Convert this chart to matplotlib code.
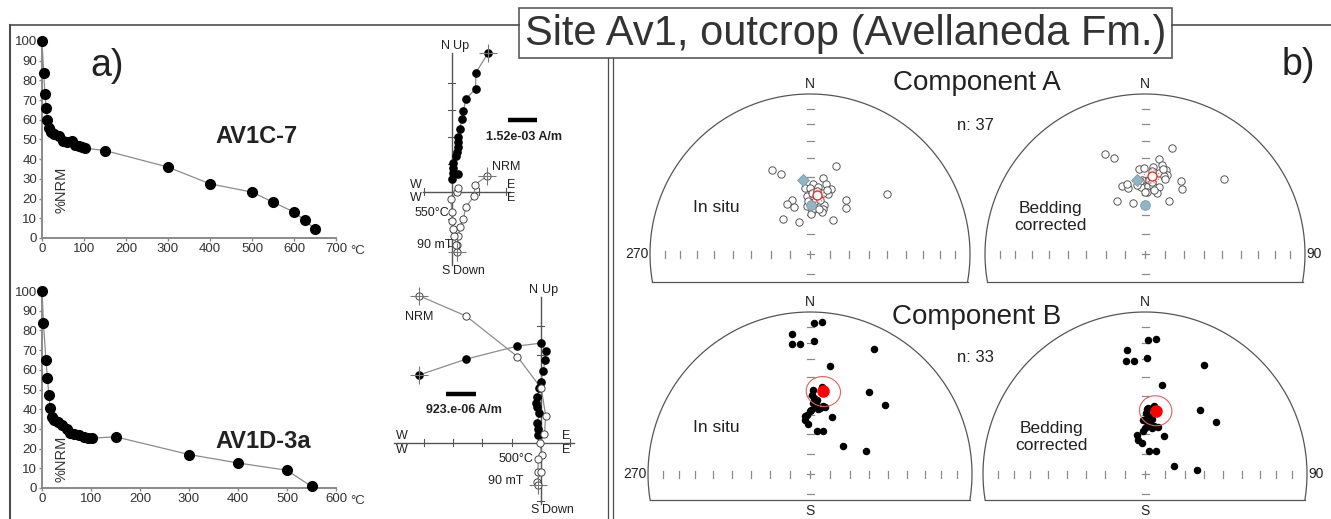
import numpy as np
import matplotlib
matplotlib.use("Agg")
import matplotlib.pyplot as plt
from matplotlib.patches import Rectangle

plt.rcParams['font.family'] = ['Liberation Sans', 'DejaVu Sans']

W, H = 1331, 519

# ---- demagnetisation curves (% of NRM left vs step) ----
av1c7_temp = [0, 4, 7, 10, 13, 16, 21, 28, 40, 50, 60, 71, 79, 87, 95, 103, 150, 300, 400, 500, 550, 600, 625, 650]
av1c7_nrm = [100, 84, 73, 66, 60, 56, 54, 53, 52, 49, 48.5, 49, 47, 46.5, 46, 45.6, 44.4, 36, 27.5, 23.3, 18.2, 13.2, 9, 4.6]
av1d3a_temp = [0, 3, 8, 11, 14, 17, 20, 25, 32, 41, 50, 58, 66, 75, 85, 93, 102, 150, 300, 400, 500, 550]
av1d3a_nrm = [100, 83.6, 65, 56, 47, 40.7, 36, 34.5, 33.5, 32, 30, 28, 27.4, 26.7, 26, 25.6, 25.3, 26, 17, 12.7, 9, 0.8]

# ---- Zijderveld diagrams (units of the scale bar) ----
z1_h_east = [1.34, 0.88, 0.88, 0.52, 0.43, 0.37, 0.30, 0.24, 0.22, 0.24, 0.18, 0.16, 0.06, 0.04, 0.06, 0.24, 0.0]
z1_h_north = [5.09, 4.35, 3.78, 3.39, 2.96, 2.66, 2.29, 1.99, 1.82, 1.65, 1.46, 1.30, 1.04, 0.85, 0.67, 0.65, 0.45]
z1_v_east = [1.28, 0.85, 0.83, 0.51, 0.43, 0.30, 0.24, 0.21, 0.18, 0.15, 0.10, 0.06, 0.02, 0.0, -0.02, 0.18, 0.24]
z1_v_up = [0.56, 0.26, -0.15, -0.57, -1.00, -1.30, -1.63, -1.95, -2.20, -1.95, -1.63, -1.37, -1.06, -0.76, -0.27, 0.0, 0.12]

z2_h_east = [-4.16, -2.56, -0.80, 0.01, 0.17, 0.15, 0.09, 0.0, -0.05, -0.11, -0.17, -0.14, -0.05, -0.11, -0.10, -0.08]
z2_h_north = [2.32, 2.86, 3.31, 3.41, 3.14, 2.83, 2.47, 2.09, 1.86, 1.58, 1.35, 1.21, 1.03, 0.66, 0.46, 0.26]
z2_v_east = [-4.16, -2.56, -0.80, 0.02, 0.17, 0.13, -0.02, 0.03, -0.08, -0.10, 0.0, -0.14, -0.08]
z2_v_up = [5.03, 4.34, 2.95, 1.86, 0.93, 0.30, -0.02, -0.42, -0.57, -0.99, -0.99, -1.34, -1.45]

# ---- site directions (dec, inc) ----
compA_insitu_dec = [335.7, 340, 16.1, 9.8, 2.7, 355.6, 0, 7.1, 12.9, 17.6, 17.2, 12.3, 356.7, 342, 335, 341, 356,
                    9.6, 16.2, 16.5, 2.2, 1.4, 15.9, 33.6, 38.3, 52, 322, 341, 34.7, 5.4, 1.6, 10.4, 6.1, 14.7,
                    358, 5, 11.6]
compA_insitu_inc = [-42, -46, -42, -50, -54, -56, -56, -55.5, -53, -55, -58, -58, -60.4, -61, -62, -64.7, -65.6,
                    -64.4, -63.8, -66, -68, -69.4, -68, -57, -60, -39, -67.3, -73, -69, -63, -58.8, -62, -57.6,
                    -56, -63, -66.4, -66.4]
compA_bc_dec = [338.5, 342.4, 14, 8.4, 356, 359.5, 5.5, 10.7, 14.1, 15.4, 10, 341, 345.8, 357, 2.8, 7, 11.9, 10.8,
                1.5, 332, 347, 24.2, 26.4, 29.6, 46.4, 357.4, 13.6, 4.6, 356, 3.3, 11.7, 5.2, 0, 8.3, 345.5, 353, 15]
compA_bc_inc = [-33, -37, -32, -40, -46, -45.5, -44.7, -43, -45, -47.7, -47.4, -52.8, -55, -55.5, -55, -54.6, -55,
                -58.2, -58.4, -59, -63.3, -60, -48, -51.4, -32.4, -51.6, -48.2, -47, -52.5, -51.6, -44.8, -52.5,
                -58, -57, -52.7, -54.3, -50]
compB_insitu_dec = [1.5, 4.6, 352.6, 352, 355.6, 1.7, 27, 10.5, 7.6, 1.8, 1.2, 3, 5.7, 2.2, 4.2, 8.6, 12.7, 7.4, 0,
                    355, 354.7, 358, 20.6, 8.7, 17.1, 49.7, 67.8, 36, 47.7, 4.9, 11.1, 356.8, 0.9]
compB_insitu_inc = [7.3, 6.6, 13.7, 20, 20.6, 18.7, 14.2, 32.9, 44.9, 47, 49.5, 51.2, 52.3, 53.9, 55.5, 56, 55.3, 57,
                    58.2, 60.4, 62.5, 64.6, 58.9, 67.9, 67.2, 68.5, 59.6, 37.8, 37.2, 54, 55, 60, 57.3]
compB_bc_dec = [1.1, 4.5, 351.6, 350.3, 354.4, 1.2, 28.4, 11, 7.8, 1.5, 0.6, 3.3, 6.9, 2.5, 5.7, 10.5, 15.8, 8.2, 0,
                356.9, 348.8, 348, 353.9, 26.8, 10, 24.6, 75.4, 86, 40.5, 53.8, 358.2, 9.1, 2.9]
compB_bc_inc = [18.3, 17.4, 23.8, 29.8, 30.8, 29.2, 24.3, 43.3, 55, 57, 59.1, 60.8, 62, 63.5, 64.7, 65.3, 65.4, 66.6,
                66.8, 68.5, 70.2, 72.4, 74.3, 68.8, 78.5, 77.2, 74.8, 63.6, 46.6, 44.8, 62.6, 57.8, 56.4]

# mean directions: dec, inc, a95
compA_insitu_mean = (6.5, -59.8, 3.6)
compA_bc_mean = (4.9, -49.7, 3.6)
compB_insitu_mean = (9.2, 47.1, 8.0)
compB_bc_mean = (9.6, 57.4, 7.8)
# reference directions (diamond, circle)
ref_insitu = [(355, -51.5), (0.8, -64.8)]
ref_bc = [(354.1, -51.5), (0, -64.8)]

GREY = '#8c8c8c'
DARK = '#4d4d4d'

fig = plt.figure(figsize=(W / 100, H / 100), dpi=100)


def px_axes(x0, y0, x1, y1):
    return fig.add_axes([x0 / W, 1 - y1 / H, (x1 - x0) / W, (y1 - y0) / H])


deco = px_axes(0, 0, W, H)
deco.set_xlim(0, W)
deco.set_ylim(H, 0)
deco.axis('off')

# frame lines
deco.plot([10, 519], [25, 25], color=DARK, lw=1.2)
deco.plot([1172, W], [25, 25], color=DARK, lw=1.2)
deco.plot([10, 10], [25, H], color=DARK, lw=1.5)
deco.plot([608, 608], [58, H], color=DARK, lw=0.9)
deco.plot([613, 613], [58, H], color=DARK, lw=0.9)
deco.add_patch(Rectangle((519, 8), 653, 50, facecolor='white', edgecolor='#5a5a5a', lw=1.2))
deco.text(846, 34, 'Site Av1, outcrop (Avellaneda Fm.)', fontsize=30, color='#333333', ha='center', va='center')
deco.text(107, 66, 'a)', fontsize=27, color='#222222', ha='center', va='center')
deco.text(1298, 65, 'b)', fontsize=27, color='#222222', ha='center', va='center')


# ---- demag curves ----
def demag(y_top, y_bot, temps, nrm, xmax, name, name_xy, lab_y, degc_y):
    ax = px_axes(42, y_top, 336, y_bot)
    ax.patch.set_visible(False)
    ax.plot(temps, nrm, color=GREY, lw=0.9, clip_on=False, zorder=2)
    ax.plot(temps, nrm, 'o', color='black', ms=7, clip_on=False, zorder=3)
    ax.set_xlim(0, xmax)
    ax.set_ylim(0, 100)
    ax.set_xticks(range(0, xmax + 1, 100))
    ax.set_yticks(range(0, 101, 10))
    for s in ['top', 'right']:
        ax.spines[s].set_visible(False)
    for s in ['left', 'bottom']:
        ax.spines[s].set_color('#8a8a8a')
        ax.spines[s].set_linewidth(1.4)
    ax.tick_params(length=2.5, width=1, color='#8a8a8a', labelsize=9.5, labelcolor='#333333', pad=1)
    ax.text(name_xy[0], name_xy[1], name, transform=ax.transAxes, fontsize=17, fontweight='bold',
            color='#222222', ha='center', va='center')
    ax.text(0.065, lab_y, '%NRM', transform=ax.transAxes, rotation=90, fontsize=10.5,
            color='#333333', ha='center', va='center')
    deco.text(350, degc_y, '°C', fontsize=9.5, color='#333333', ha='left', va='center')


demag(41, 238, av1c7_temp, av1c7_nrm, 700, 'AV1C-7', (0.731, 0.513), 0.244, 251)
demag(291, 488, av1d3a_temp, av1d3a_nrm, 600, 'AV1D-3a', (0.752, 0.234), 0.147, 501)


# ---- Zijderveld plots ----
def zij(box, origin, unit, xr, yr, xt, yt):
    x0, y0, x1, y1 = box
    ax = px_axes(*box)
    ax.set_xlim((x0 - origin[0]) / unit, (x1 - origin[0]) / unit)
    ax.set_ylim((origin[1] - y1) / unit, (origin[1] - y0) / unit)
    ax.axis('off')
    ax.plot(xr, [0, 0], color='#555555', lw=1)
    ax.plot([0, 0], yr, color='#555555', lw=1)
    for t in xt:
        ax.plot([t, t], [-0.13, 0.13], color='#555555', lw=0.8)
    for t in yt:
        ax.plot([-0.13, 0.13], [t, t], color='#555555', lw=0.8)
    return ax


def zij_data(ax, he, hn, ve, vu, cross_h, cross_v):
    ax.plot(he, hn, color=GREY, lw=0.9, zorder=2)
    ax.plot(ve, vu, color=GREY, lw=0.9, zorder=2)
    ax.plot(he, hn, 'o', color='black', ms=5.2, zorder=3)
    ax.plot(ve, vu, 'o', mfc='white', mec='#444444', mew=0.7, ms=5.2, zorder=3)
    for i in cross_h:
        ax.plot(he[i], hn[i], '+', color='#777777', ms=13, mew=0.8, zorder=4)
    for i in cross_v:
        ax.plot(ve[i], vu[i], '+', color='#777777', ms=13, mew=0.8, zorder=4)


lab = dict(fontsize=9, color='#222222')

z1 = zij((400, 30, 600, 280), (451.7, 191.7), 27.3, [-1.05, 2.13], [-2.68, 5.08],
         [-1, 1, 2], [-2, -1, 1, 2, 3, 4])
zij_data(z1, z1_h_east, z1_h_north, z1_v_east, z1_v_up, [0], [0, 8])
z1.text(-0.08, 5.1, 'N', ha='right', va='bottom', **lab)
z1.text(0.06, 5.1, 'Up', ha='left', va='bottom', **lab)
z1.text(-0.08, -2.7, 'S', ha='right', va='top', **lab)
z1.text(0.06, -2.7, 'Down', ha='left', va='top', **lab)
z1.text(-1.1, 0.02, 'W', ha='right', va='bottom', **lab)
z1.text(-1.1, -0.02, 'W', ha='right', va='top', **lab)
z1.text(2.02, 0.02, 'E', ha='left', va='bottom', **lab)
z1.text(2.02, -0.02, 'E', ha='left', va='top', **lab)
z1.text(1.47, 0.92, 'NRM', ha='left', va='center', **lab)
z1.text(-0.1, -0.78, '550°C', ha='right', va='center', **lab)
z1.text(0.02, -1.95, '90 mT', ha='right', va='center', **lab)
z1.plot([2.06, 3.13], [2.63, 2.63], color='black', lw=3.2, solid_capstyle='butt')
z1.text(2.66, 2.0, '1.52e-03 A/m', ha='center', va='center', fontsize=9, fontweight='bold', color='#222222')

z2 = zij((380, 280, 600, 519), (540.7, 442.7), 29.2, [-5.03, 1.14], [-2.09, 5.0],
         [-4, -3, -2, -1, 1], [-2, -1, 1, 2, 3, 4])
zij_data(z2, z2_h_east, z2_h_north, z2_v_east, z2_v_up, [0], [0, 12])
z2.text(-0.08, 5.02, 'N', ha='right', va='bottom', **lab)
z2.text(0.06, 5.02, 'Up', ha='left', va='bottom', **lab)
z2.text(-0.08, -2.1, 'S', ha='right', va='top', **lab)
z2.text(0.06, -2.1, 'Down', ha='left', va='top', **lab)
z2.text(-4.95, 0.03, 'W', ha='left', va='bottom', **lab)
z2.text(-4.95, -0.03, 'W', ha='left', va='top', **lab)
z2.text(1.0, 0.03, 'E', ha='right', va='bottom', **lab)
z2.text(1.0, -0.03, 'E', ha='right', va='top', **lab)
z2.text(-4.17, 4.3, 'NRM', ha='center', va='center', **lab)
z2.text(-0.26, -0.56, '500°C', ha='right', va='center', **lab)
z2.text(-0.6, -1.31, '90 mT', ha='right', va='center', **lab)
z2.plot([-3.24, -2.22], [1.67, 1.67], color='black', lw=3.2, solid_capstyle='butt')
z2.text(-2.63, 1.12, '923.e-06 A/m', ha='center', va='center', fontsize=9, fontweight='bold', color='#222222')


# ---- equal-area stereonets ----
def project(dec, inc):
    d = np.radians(np.asarray(dec, dtype=float))
    colat = np.radians(90 - np.abs(np.asarray(inc, dtype=float)))
    r = np.sqrt(2) * np.sin(colat / 2)
    return r * np.sin(d), r * np.cos(d)


def cone(dec, inc, a95, n=120):
    d, i = np.radians(dec), np.radians(abs(inc))
    m = np.array([np.cos(i) * np.cos(d), np.cos(i) * np.sin(d), np.sin(i)])
    u = np.array([-np.sin(i) * np.cos(d), -np.sin(i) * np.sin(d), np.cos(i)])
    w = np.cross(m, u)
    t = np.linspace(0, 2 * np.pi, n)
    a = np.radians(a95)
    v = np.cos(a) * m[:, None] + np.sin(a) * (np.outer(u, np.cos(t)) + np.outer(w, np.sin(t)))
    return project(np.degrees(np.arctan2(v[1], v[0])), np.degrees(np.arcsin(np.clip(v[2], -1, 1))))


def stereonet(cx, cy, R, clip_y, side, south):
    ax = px_axes(cx - 1.3 * R, cy - 1.3 * R, cx + 1.3 * R, cy + 1.3 * R)
    ax.set_xlim(-1.3, 1.3)
    ax.set_ylim(-1.3, 1.3)
    ax.axis('off')
    t0 = np.arcsin(clip_y)
    t = np.linspace(t0, np.pi - t0, 300)
    ax.plot(np.cos(t), np.sin(t), color='#555555', lw=0.9)
    ax.plot([-np.cos(t0), np.cos(t0)], [clip_y, clip_y], color='#555555', lw=0.9)
    rk = np.sqrt(2) * np.sin(np.radians(np.arange(10, 90, 10)) / 2)
    hl = 3.5 / R
    for r in np.concatenate([[0], rk, -rk]):
        ax.plot([r, r], [-hl, hl], color='#8a8a8a', lw=0.9)
    for r in np.concatenate([[0], rk, [-rk[0]]]):
        ax.plot([-hl, hl], [r, r], color='#8a8a8a', lw=0.9)
    ax.text(0, 1 + 10 / R, 'N', ha='center', va='center', fontsize=10, color='#222222')
    if south:
        ax.text(0, -0.228, 'S', ha='center', va='center', fontsize=10, color='#222222')
    if side == 'left':
        ax.text(-1.01, 0, '270', ha='right', va='center', fontsize=10, color='#222222')
    else:
        ax.text(1.01, 0, '90', ha='left', va='center', fontsize=10, color='#222222')
    return ax


def comp_a(ax, dec, inc, mean, refs):
    x, y = project(dec, inc)
    ax.plot(x, y, 'o', mfc='white', mec='#555555', mew=0.7, ms=5.3, zorder=3)
    rx, ry = project(*refs[0])
    ax.plot(rx, ry, 'D', color='#93b4c4', mec='#7b9cac', mew=0.6, ms=6, zorder=4)
    rx, ry = project(*refs[1])
    ax.plot(rx, ry, 'o', color='#93b4c4', mec='#7b9cac', mew=0.6, ms=7, zorder=4)
    cxs, cys = cone(*mean)
    ax.plot(cxs, cys, color='#e05a5a', lw=0.8, ls=':', zorder=5)
    mx, my = project(mean[0], mean[1])
    ax.plot(mx, my, 'o', mfc='white', mec='#e03030', mew=1.0, ms=6.5, zorder=5)


def comp_b(ax, dec, inc, mean):
    x, y = project(dec, inc)
    ax.plot(x, y, 'o', color='black', ms=4.4, zorder=3)
    cxs, cys = cone(*mean)
    ax.plot(cxs, cys, color='#e06060', lw=0.8, zorder=5)
    mx, my = project(mean[0], mean[1])
    ax.plot(mx, my, 'o', color='#ff0000', ms=8, zorder=5)


s1 = stereonet(810, 254, 160, -0.173, 'left', False)
comp_a(s1, compA_insitu_dec, compA_insitu_inc, compA_insitu_mean, ref_insitu)
s2 = stereonet(1145, 254, 160, -0.173, 'right', False)
comp_a(s2, compA_bc_dec, compA_bc_inc, compA_bc_mean, ref_bc)
s3 = stereonet(810, 474, 162, -0.16, 'left', True)
comp_b(s3, compB_insitu_dec, compB_insitu_inc, compB_insitu_mean)
s4 = stereonet(1145, 474, 162, -0.16, 'right', True)
comp_b(s4, compB_bc_dec, compB_bc_inc, compB_bc_mean)

txt = dict(color='#222222', ha='center', va='center')
deco.text(977, 83, 'Component A', fontsize=20, **txt)
deco.text(977, 317, 'Component B', fontsize=20, **txt)
deco.text(957, 125, 'n: 37', fontsize=12, color='#222222', ha='left', va='center')
deco.text(957, 357, 'n: 33', fontsize=12, color='#222222', ha='left', va='center')
deco.text(716, 207, 'In situ', fontsize=12.5, **txt)
deco.text(716, 427, 'In situ', fontsize=12.5, **txt)
deco.text(1050, 217, 'Bedding\ncorrected', fontsize=12.5, linespacing=1.1, **txt)
deco.text(1051, 437, 'Bedding\ncorrected', fontsize=12.5, linespacing=1.1, **txt)

fig.savefig('out.png', dpi=100)
